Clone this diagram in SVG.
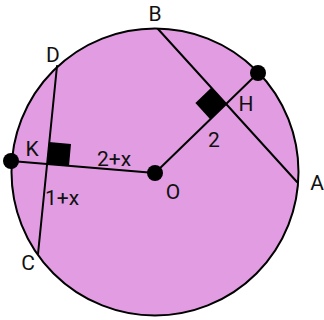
<svg xmlns="http://www.w3.org/2000/svg" width="324" height="320" viewBox="0 0 324 320">
  <style>
    .ln { stroke: #000; stroke-width: 2; fill: none; stroke-linecap: round; }
    .dot { fill: #000; }
    .lbl { font-family: Roboto, "Liberation Sans", sans-serif; font-size: 21px; fill: #111; text-anchor: middle; }
  </style>
  <rect x="0" y="0" width="324" height="320" fill="#fff"/>
  <g id="circle">
    <circle cx="155" cy="172" r="143.5" fill="#E29DE2" stroke="#000" stroke-width="2"/>
  </g>
  <g id="connectors">
    <line class="ln" x1="155" y1="173" x2="11" y2="161"/>
    <line class="ln" x1="155" y1="173" x2="258" y2="73"/>
    <line class="ln" x1="158" y1="29" x2="297" y2="182"/>
    <line class="ln" x1="57" y1="66" x2="38" y2="254"/>
  </g>
  <g id="rightangle-K">
    <polygon points="47,164 69,166 71,144 49,142" fill="#000"/>
  </g>
  <g id="rightangle-H">
    <polygon points="226,104 210.2,119.3 195.4,103 211.2,87.7" fill="#000"/>
  </g>
  <g id="node-O">
    <circle class="dot" cx="155" cy="173" r="8"/>
    <text class="lbl" x="173" y="199">O</text>
  </g>
  <g id="node-left">
    <circle class="dot" cx="11" cy="161" r="8"/>
  </g>
  <g id="node-top">
    <circle class="dot" cx="258" cy="73" r="8"/>
  </g>
  <g id="labels">
    <text class="lbl" x="155" y="21">B</text>
    <text class="lbl" x="317" y="190">A</text>
    <text class="lbl" x="246" y="111">H</text>
    <text class="lbl" x="214" y="147">2</text>
    <text class="lbl" x="53" y="62">D</text>
    <text class="lbl" x="32" y="156">K</text>
    <text class="lbl" x="28" y="270">C</text>
    <text class="lbl" x="114" y="166">2+x</text>
    <text class="lbl" x="62" y="205">1+x</text>
  </g>
</svg>
